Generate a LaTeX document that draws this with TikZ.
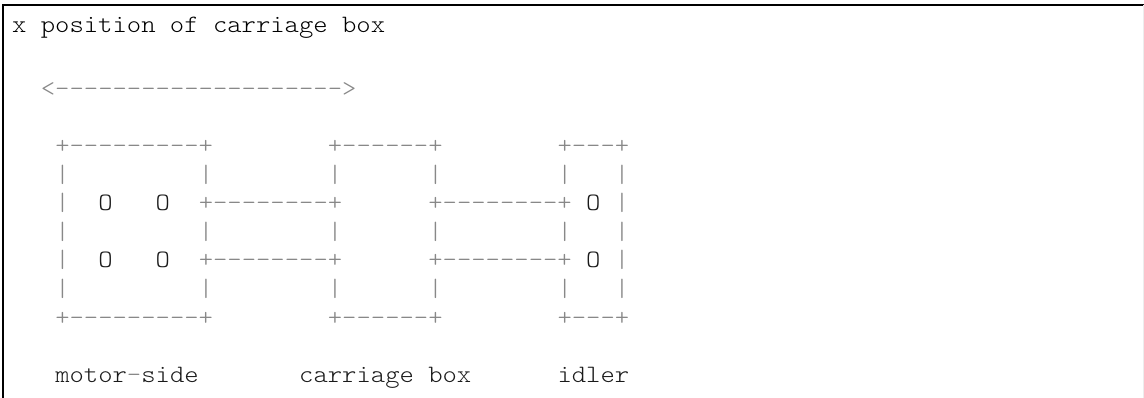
\documentclass[tikz,border=0pt]{standalone}
\usepackage{fontspec}
\setmonofont{Latin Modern Mono Light}[FakeStretch=1.093]
\usepackage{xcolor}
\usetikzlibrary{positioning}
\definecolor{symgray}{HTML}{888888}
\definecolor{txtdark}{HTML}{1A1A1A}
\newcommand{\cx}[1]{12+14.35*#1}
\newcommand{\ry}[1]{40+28.5*#1}

\begin{document}
\begin{tikzpicture}[x=1pt,y=-1pt,
  every node/.style={inner sep=0pt,anchor=base west,
    font=\ttfamily\fontsize{25}{28.5}\selectfont},
  word/.style={text=txtdark},
  sym/.style={text=symgray},
  hole/.style={text=txtdark}
]
  \useasboundingbox (0,0) rectangle (1144,398);
  % frame of the block
  \draw[line width=1.3pt] (3,398) -- (3,5) -- (1144,5);
  \draw[black!7] (1143,5) -- (1143,398);

  \node[word,text=black] (title) at ({\cx{0}},33) {x position of carriage box};
  \node[sym] (range) at ({\cx{2}},{\ry{2}}) {<-------------------->};

  % top and bottom edges
  \foreach \r/\n in {4/top,10/bot}{
    \node[sym] (motor\n) at ({\cx{3}},{\ry{\r}}) {+---------+};
    \node[sym] (carr\n) at ({\cx{22}},{\ry{\r}}) {+------+};
    \node[sym] (idle\n) at ({\cx{38}},{\ry{\r}}) {+---+};
  }
  % plain wall rows
  \foreach \r in {5,7,9}{
    \foreach \c in {3,13,22,29,38,42}
      \node[sym] (w\r-\c) at ({\cx{\c}},{\ry{\r}}) {|};
  }
  % rows with the pulleys and belts
  \foreach \r in {6,8}{
    \node[sym] (w\r-3) at ({\cx{3}},{\ry{\r}}) {|};
    \node[hole] (p\r-a) at ({\cx{6}},{\ry{\r}}) {O};
    \node[hole] (p\r-b) at ({\cx{10}},{\ry{\r}}) {O};
    \node[sym] (beltl\r) at ({\cx{13}},{\ry{\r}}) {+--------+};
    \node[sym] (beltr\r) at ({\cx{29}},{\ry{\r}}) {+--------+};
    \node[hole] (p\r-c) at ({\cx{40}},{\ry{\r}}) {O};
    \node[sym] (w\r-42) at ({\cx{42}},{\ry{\r}}) {|};
  }

  \node[word] (motorlbl) at ({\cx{3}},{\ry{12}}) {motor\textcolor{symgray}{-}side};
  \node[word] (carrlbl) at ({\cx{20}},{\ry{12}}) {carriage box};
  \node[word] (idlelbl) at ({\cx{38}},{\ry{12}}) {idler};
\end{tikzpicture}
\end{document}
